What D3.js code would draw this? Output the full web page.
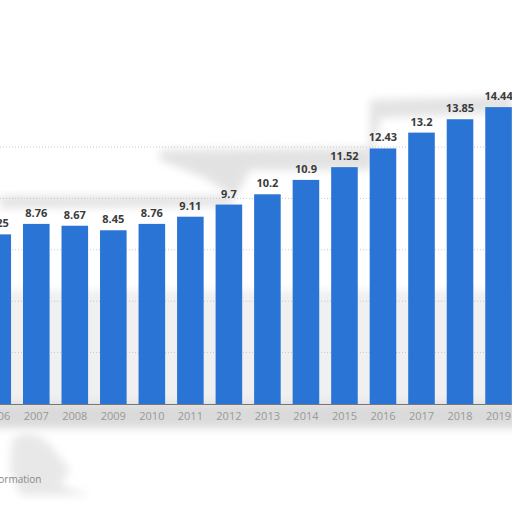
<!DOCTYPE html>
<html>
<head>
<meta charset="utf-8">
<script src="https://cdn.jsdelivr.net/npm/d3@7"></script>
<style>
  body { margin: 0; background: #fff; }
  svg { display: block; }
</style>
</head>
<body>
<div id="container"></div>
<script>
/* CONSTANTS AND GLOBALS */
const width = 512,
  height = 512,
  baseline = 404;

/* DATA */
const years = ["2006", "2007", "2008", "2009", "2010", "2011", "2012", "2013", "2014", "2015", "2016", "2017", "2018", "2019"];
const values = [8.25, 8.76, 8.67, 8.45, 8.76, 9.11, 9.7, 10.2, 10.9, 11.52, 12.43, 13.2, 13.85, 14.44];
const valueLabels = ["8.25", "8.76", "8.67", "8.45", "8.76", "9.11", "9.7", "10.2", "10.9", "11.52", "12.43", "13.2", "13.85", "14.44"];
const gridTicks = [2.5, 5, 7.5, 10, 12.5];

const data = years.map((y, i) => ({ year: y, value: values[i], label: valueLabels[i] }));

const svg = d3.select("#container")
  .append("svg")
  .attr("width", width)
  .attr("height", height);

const defs = svg.append("defs");
defs.append("filter").attr("id", "blur")
  .attr("x", "-20%").attr("y", "-50%").attr("width", "140%").attr("height", "200%")
  .append("feGaussianBlur").attr("stdDeviation", 4);

/* SCALES */
const xScale = d3.scaleBand()
  .domain(years)
  .range([-21.5, 517.8])
  .paddingInner(0.31)
  .paddingOuter(0.155);

const yScale = d3.scaleLinear()
  .domain([0, 15])
  .range([baseline, baseline - 15 * 20.56]);

// soft grey background behind lower part of the plot and the axis labels
svg.append("rect")
  .attr("x", -10).attr("y", 290)
  .attr("width", width + 20).attr("height", 114)
  .attr("fill", "#f0f0f0")
  .attr("filter", "url(#blur)");
svg.append("rect")
  .attr("x", -10).attr("y", 402)
  .attr("width", width + 20).attr("height", 26)
  .attr("fill", "#dadada")
  .attr("filter", "url(#blur)");
// smudges near the top
svg.append("path")
  .attr("d", "M160,150 L370,148 L370,100 L512,96 L512,112 L380,118 L372,170 L250,170 L235,198 L205,178 L160,160 Z")
  .attr("fill", "#dcdcdc")
  .attr("opacity", 0.8)
  .attr("filter", "url(#blur)");
svg.append("path")
  .attr("d", "M0,196 L230,196 L235,206 L0,208 Z")
  .attr("fill", "#e2e2e2")
  .attr("filter", "url(#blur)");
// smudge near the bottom-left note
svg.append("path")
  .attr("d", "M12,440 Q30,425 50,445 L70,470 L60,485 L90,495 L20,495 L10,470 Z")
  .attr("fill", "#e8e8e8")
  .attr("filter", "url(#blur)");

/* GRIDLINES */
svg.selectAll(".grid")
  .data(gridTicks)
  .join("line")
  .attr("class", "grid")
  .attr("x1", 0).attr("x2", width)
  .attr("y1", d => yScale(d)).attr("y2", d => yScale(d))
  .attr("stroke", "#c8c8c8")
  .attr("stroke-width", 1)
  .attr("stroke-dasharray", "1,2");

/* BARS */
svg.selectAll(".bar")
  .data(data)
  .join("rect")
  .attr("class", "bar")
  .attr("x", d => xScale(d.year))
  .attr("y", d => yScale(d.value))
  .attr("width", xScale.bandwidth())
  .attr("height", d => baseline - yScale(d.value))
  .attr("fill", "#2a74d6");

svg.selectAll(".value")
  .data(data)
  .join("text")
  .attr("class", "value")
  .attr("x", d => xScale(d.year) + xScale.bandwidth() / 2)
  .attr("y", d => yScale(d.value) - 7)
  .attr("text-anchor", "middle")
  .style("font-family", "'Open Sans', sans-serif")
  .style("font-size", "11px")
  .style("font-weight", "bold")
  .style("fill", "#3a3a3a")
  .text(d => d.label);

/* AXIS */
const xAxis = svg.append("g")
  .attr("class", "x-axis")
  .attr("transform", `translate(0,${baseline})`)
  .call(d3.axisBottom(xScale).tickSize(0).tickPadding(8));

xAxis.select(".domain").attr("stroke", "#777").attr("stroke-width", 1.2);
xAxis.selectAll("text")
  .style("font-family", "'Open Sans', sans-serif")
  .style("font-size", "11px")
  .style("fill", "#999");

svg.append("text")
  .attr("x", -14)
  .attr("y", 483)
  .style("font-family", "'Open Sans', sans-serif")
  .style("font-size", "10px")
  .style("fill", "#888")
  .text("Information");
</script>
</body>
</html>
